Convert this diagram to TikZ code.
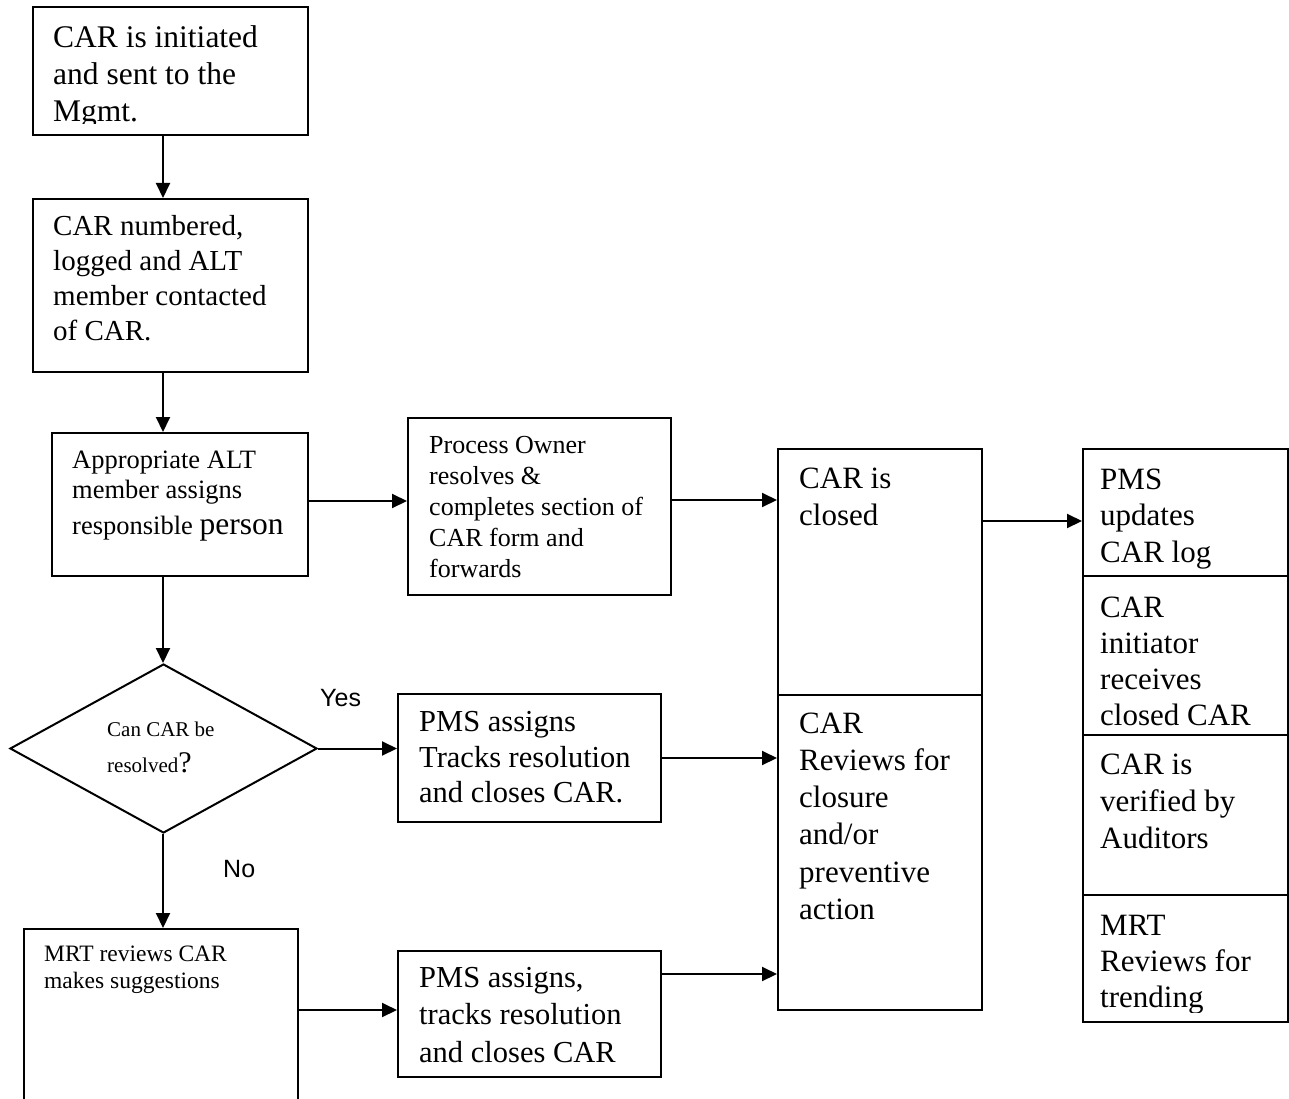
\documentclass[tikz,border=0pt]{standalone}
\usepackage{fontspec}
\setmainfont{Liberation Serif}
\newfontfamily\arialfam{Liberation Sans}
\usetikzlibrary{arrows.meta,shapes.geometric,fit}
\newcommand\setfs[2]{\fontsize{#1}{#2}\selectfont}
\begin{document}
\begin{tikzpicture}[x=1pt,y=-1pt,
  box/.style={draw, line width=2pt, inner sep=0pt},
  txt/.style={anchor=north west, inner sep=0pt, align=left},
  arr/.style={line width=2pt, -{Triangle[length=15pt,width=14pt]}},
  lbl/.style={anchor=base west, inner sep=0pt, font=\arialfam\setfs{25}{30}}]
\useasboundingbox (0,0) rectangle (1289,1099);
\clip (0,0) rectangle (1289,1099);
% boxes
\node[box, fit={(33,7) (308,135)}] (b1) {};
\node[box, fit={(33,199) (308,372)}] (b2) {};
\node[box, fit={(52,433) (308,576)}] (b3) {};
\node[box, fit={(408,418) (671,595)}] (b4) {};
\node[draw, line width=2pt, diamond, inner sep=0pt, minimum width=307pt, minimum height=169pt] (dm) at (163.5,748.5) {};
\node[box, fit={(24,929) (298,1120)}] (mrt) {};
\node[box, fit={(398,694) (661,822)}] (p1) {};
\node[box, fit={(398,951) (661,1077)}] (p2) {};
\node[box, fit={(778,449) (982,695)}] (c1) {};
\node[box, fit={(778,695) (982,1010)}] (c2) {};
\node[box, fit={(1083,449) (1288,576)}] (r1) {};
\node[box, fit={(1083,576) (1288,735)}] (r2) {};
\node[box, fit={(1083,735) (1288,895)}] (r3) {};
\node[box, fit={(1083,895) (1288,1022)}] (r4) {};
% texts
\begin{scope}
\clip (33,7) rectangle (308,124);
\node[txt, font=\setfs{31.5}{37}] (t1) at (53,25.5) {CAR is initiated\\and sent to the\\Mgmt.};
\end{scope}
\node[txt, font=\setfs{29}{35}] (t2) at (53,215) {CAR numbered,\\logged and ALT\\member contacted\\of CAR.};
\node[txt, font=\setfs{26.5}{30}] (t3) at (72,451) {Appropriate ALT\\member assigns\\[6pt]responsible {\setfs{31.5}{30}person}};
\node[txt, font=\setfs{26}{31}] (t4) at (429,435.8) {Process Owner\\resolves \&\\completes section of\\CAR form and\\forwards};
\node[txt, font=\setfs{21}{36}] (t5) at (107,721.7) {Can CAR be\\resolved{\setfs{30}{36}?}};
\node[txt, font=\setfs{23.5}{27}] (t6) at (44,946) {MRT reviews CAR\\makes suggestions};
\node[txt, font=\setfs{30.5}{35.5}] (t7) at (419,711.2) {PMS assigns\\Tracks resolution\\and closes CAR.};
\node[txt, font=\setfs{30.5}{37.5}] (t8) at (419,967) {PMS assigns,\\tracks resolution\\and closes CAR};
\node[txt, font=\setfs{31}{37}] (t9) at (799,467.8) {CAR is\\closed};
\node[txt, font=\setfs{31}{37.2}] (t10) at (799,712.5) {CAR\\Reviews for\\closure\\and/or\\preventive\\action};
\begin{scope}
\clip (1083,449) rectangle (1288,572);
\node[txt, font=\setfs{31}{36.5}] (t11) at (1100,468.5) {PMS\\updates\\CAR log};
\end{scope}
\node[txt, font=\setfs{31}{36}] (t12) at (1100,596.5) {CAR\\initiator\\receives\\closed CAR};
\node[txt, font=\setfs{31}{37}] (t13) at (1100,753.8) {CAR is\\verified by\\Auditors};
\begin{scope}
\clip (1083,895) rectangle (1288,1012);
\node[txt, font=\setfs{31}{36}] (t14) at (1100,914.5) {MRT\\Reviews for\\trending};
\end{scope}
\node[lbl] (yes) at (320,706) {Yes};
\node[lbl] (no) at (223,877) {No};
% connectors
\coordinate (ax) at (163,0);
\coordinate (y1) at (0,501);
\coordinate (y2) at (0,500);
\coordinate (y3) at (0,758);
\coordinate (y4) at (0,1010);
\coordinate (y5) at (0,974);
\coordinate (y6) at (0,521);
\draw[arr] (ax |- b1.south) -- (ax |- b2.north);
\draw[arr] (ax |- b2.south) -- (ax |- b3.north);
\draw[arr] (ax |- b3.south) -- (ax |- dm.north);
\draw[arr] (ax |- dm.south) -- (ax |- mrt.north);
\draw[arr] (b3.east |- y1) -- (b4.west |- y1);
\draw[arr] (b4.east |- y2) -- (c1.west |- y2);
\draw[arr] (dm.east) -- (p1.west |- dm.east);
\draw[arr] (p1.east |- y3) -- (c2.west |- y3);
\draw[arr] (mrt.east |- y4) -- (p2.west |- y4);
\draw[arr] (p2.east |- y5) -- (c2.west |- y5);
\draw[arr] (c1.east |- y6) -- (r1.west |- y6);
\end{tikzpicture}
\end{document}
